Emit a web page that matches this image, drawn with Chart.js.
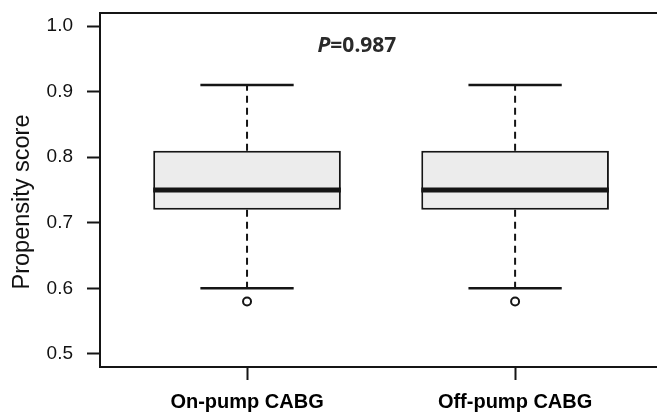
<!DOCTYPE html>
<html>
<head>
<meta charset="utf-8">
<script src="https://cdn.jsdelivr.net/npm/chart.js@4.4.1/dist/chart.umd.min.js"></script>
<style>
    html, body { margin: 0; padding: 0; background: #fff; }
    #wrap { width: 657px; height: 413px; }
</style>
</head>
<body>
<div id="wrap"><canvas id="chart"></canvas></div>
<script>
// values
const groups = ['On-pump CABG', 'Off-pump CABG'];
const upperWhisker = [0.91, 0.91];
const q3 = [0.81, 0.81];
const median = [0.75, 0.75];
const q1 = [0.72, 0.72];
const lowerWhisker = [0.60, 0.60];
const outliers = [[0.58], [0.58]];
const yTicks = [0.5, 0.6, 0.7, 0.8, 0.9, 1.0];
const pValueText = '0.987';
const yTitle = 'Propensity score';

const BOX_HALF = 0.35;
const CAP_HALF = 0.174;
const INK = '#151515';
const FONT = '"Liberation Sans", Arial, sans-serif';

function segments(build) {
    const pts = [];
    groups.forEach((g, i) => {
        build(i + 1, i).forEach(seg => {
            pts.push(seg[0], seg[1], { x: seg[0].x, y: null });
        });
    });
    return pts;
}

const medianPts = segments((c, i) => [[{ x: c - BOX_HALF, y: median[i] }, { x: c + BOX_HALF, y: median[i] }]]);
const whiskerPts = segments((c, i) => [
    [{ x: c, y: q3[i] }, { x: c, y: upperWhisker[i] }],
    [{ x: c, y: q1[i] }, { x: c, y: lowerWhisker[i] }]
]);
const capPts = segments((c, i) => [
    [{ x: c - CAP_HALF, y: upperWhisker[i] }, { x: c + CAP_HALF, y: upperWhisker[i] }],
    [{ x: c - CAP_HALF, y: lowerWhisker[i] }, { x: c + CAP_HALF, y: lowerWhisker[i] }]
]);
const outlierPts = [];
outliers.forEach((list, i) => list.forEach(v => outlierPts.push({ x: i + 1, y: v })));

// frame on top, left and bottom (right side runs off the picture)
const framePlugin = {
    id: 'frame',
    afterDatasetsDraw(chart) {
        const { ctx, chartArea: a } = chart;
        ctx.save();
        ctx.strokeStyle = INK;
        ctx.lineWidth = 2;
        ctx.beginPath();
        ctx.moveTo(chart.width, a.top);
        ctx.lineTo(a.left, a.top);
        ctx.lineTo(a.left, a.bottom);
        ctx.lineTo(chart.width, a.bottom);
        ctx.stroke();
        ctx.restore();
    }
};

const labelsPlugin = {
    id: 'labels',
    afterDraw(chart) {
        const { ctx, scales, chartArea: a } = chart;
        ctx.save();

        // y axis title, centred a little below the middle like the original
        ctx.translate(23, (a.top + a.bottom) / 2 + 12);
        ctx.rotate(-Math.PI / 2);
        ctx.fillStyle = '#111';
        ctx.textAlign = 'center';
        ctx.textBaseline = 'middle';
        ctx.font = '23.5px ' + FONT;
        ctx.fillText(yTitle, 0, 0);
        ctx.restore();

        // P value
        const x = scales.x.getPixelForValue(1.41);
        const y = scales.y.getPixelForValue(0.969);
        const bold = 'bold 21px "Noto Sans", "Open Sans", sans-serif';
        ctx.save();
        ctx.fillStyle = '#2a2a2a';
        ctx.textBaseline = 'middle';
        ctx.font = 'italic ' + bold;
        const pw = ctx.measureText('P').width;
        ctx.font = bold;
        const rest = '=' + pValueText;
        const left = x - (pw + ctx.measureText(rest).width) / 2;
        ctx.font = 'italic ' + bold;
        ctx.fillText('P', left, y);
        ctx.font = bold;
        ctx.fillText(rest, left + pw, y);
        ctx.restore();
    }
};

new Chart(document.getElementById('chart'), {
    type: 'line',
    data: {
        datasets: [
            {
                type: 'line', data: medianPts, borderColor: INK, borderWidth: 5,
                pointRadius: 0, borderCapStyle: 'butt', order: 0
            },
            {
                type: 'line', data: outlierPts, showLine: false, pointRadius: 4,
                pointBorderWidth: 2, pointBorderColor: INK, pointBackgroundColor: '#fff', order: 0
            },
            {
                type: 'line', data: capPts, borderColor: INK, borderWidth: 2.5,
                pointRadius: 0, order: 1
            },
            {
                type: 'line', data: whiskerPts, borderColor: INK, borderWidth: 2,
                borderDash: [7, 5], pointRadius: 0, order: 2
            },
            {
                type: 'bar',
                data: groups.map((g, i) => ({ x: i + 1, y: [q1[i], q3[i]] })),
                backgroundColor: '#ececec', borderColor: INK, borderWidth: 2,
                borderSkipped: false, barPercentage: 0.70, categoryPercentage: 1, order: 3
            }
        ]
    },
    options: {
        responsive: true,
        maintainAspectRatio: false,
        animation: false,
        layout: { padding: { top: 13, right: 0, bottom: 0, left: 0 } },
        plugins: { legend: { display: false }, tooltip: { enabled: false } },
        scales: {
            x: {
                type: 'linear',
                min: 0.4515,
                max: 2.507,
                offset: false,
                afterBuildTicks(scale) { scale.ticks = groups.map((g, i) => ({ value: i + 1 })); },
                afterFit(scale) {
                    scale.height = 46;
                    scale.paddingLeft = 0;
                    scale.paddingRight = 0;
                },
                border: { display: false },
                grid: { offset: false, drawOnChartArea: false, drawTicks: true, tickLength: 13, tickWidth: 2, tickColor: INK },
                ticks: {
                    callback: (v, i) => groups[i],
                    color: '#000',
                    padding: 10,
                    maxRotation: 0,
                    font: { family: FONT, size: 20, weight: 'bold' }
                }
            },
            y: {
                min: 0.48,
                max: 1.02,
                afterBuildTicks(scale) { scale.ticks = yTicks.map(v => ({ value: v })); },
                afterFit(scale) {
                    scale.width = 100;
                    scale.paddingTop = 0;
                    scale.paddingBottom = 0;
                },
                border: { display: false },
                grid: { drawOnChartArea: false, drawTicks: true, tickLength: 13, tickWidth: 2, tickColor: INK },
                ticks: {
                    callback: v => v.toFixed(1),
                    color: '#111',
                    padding: 14,
                    font: { family: FONT, size: 19 }
                }
            }
        }
    },
    plugins: [framePlugin, labelsPlugin]
});
</script>
</body>
</html>
